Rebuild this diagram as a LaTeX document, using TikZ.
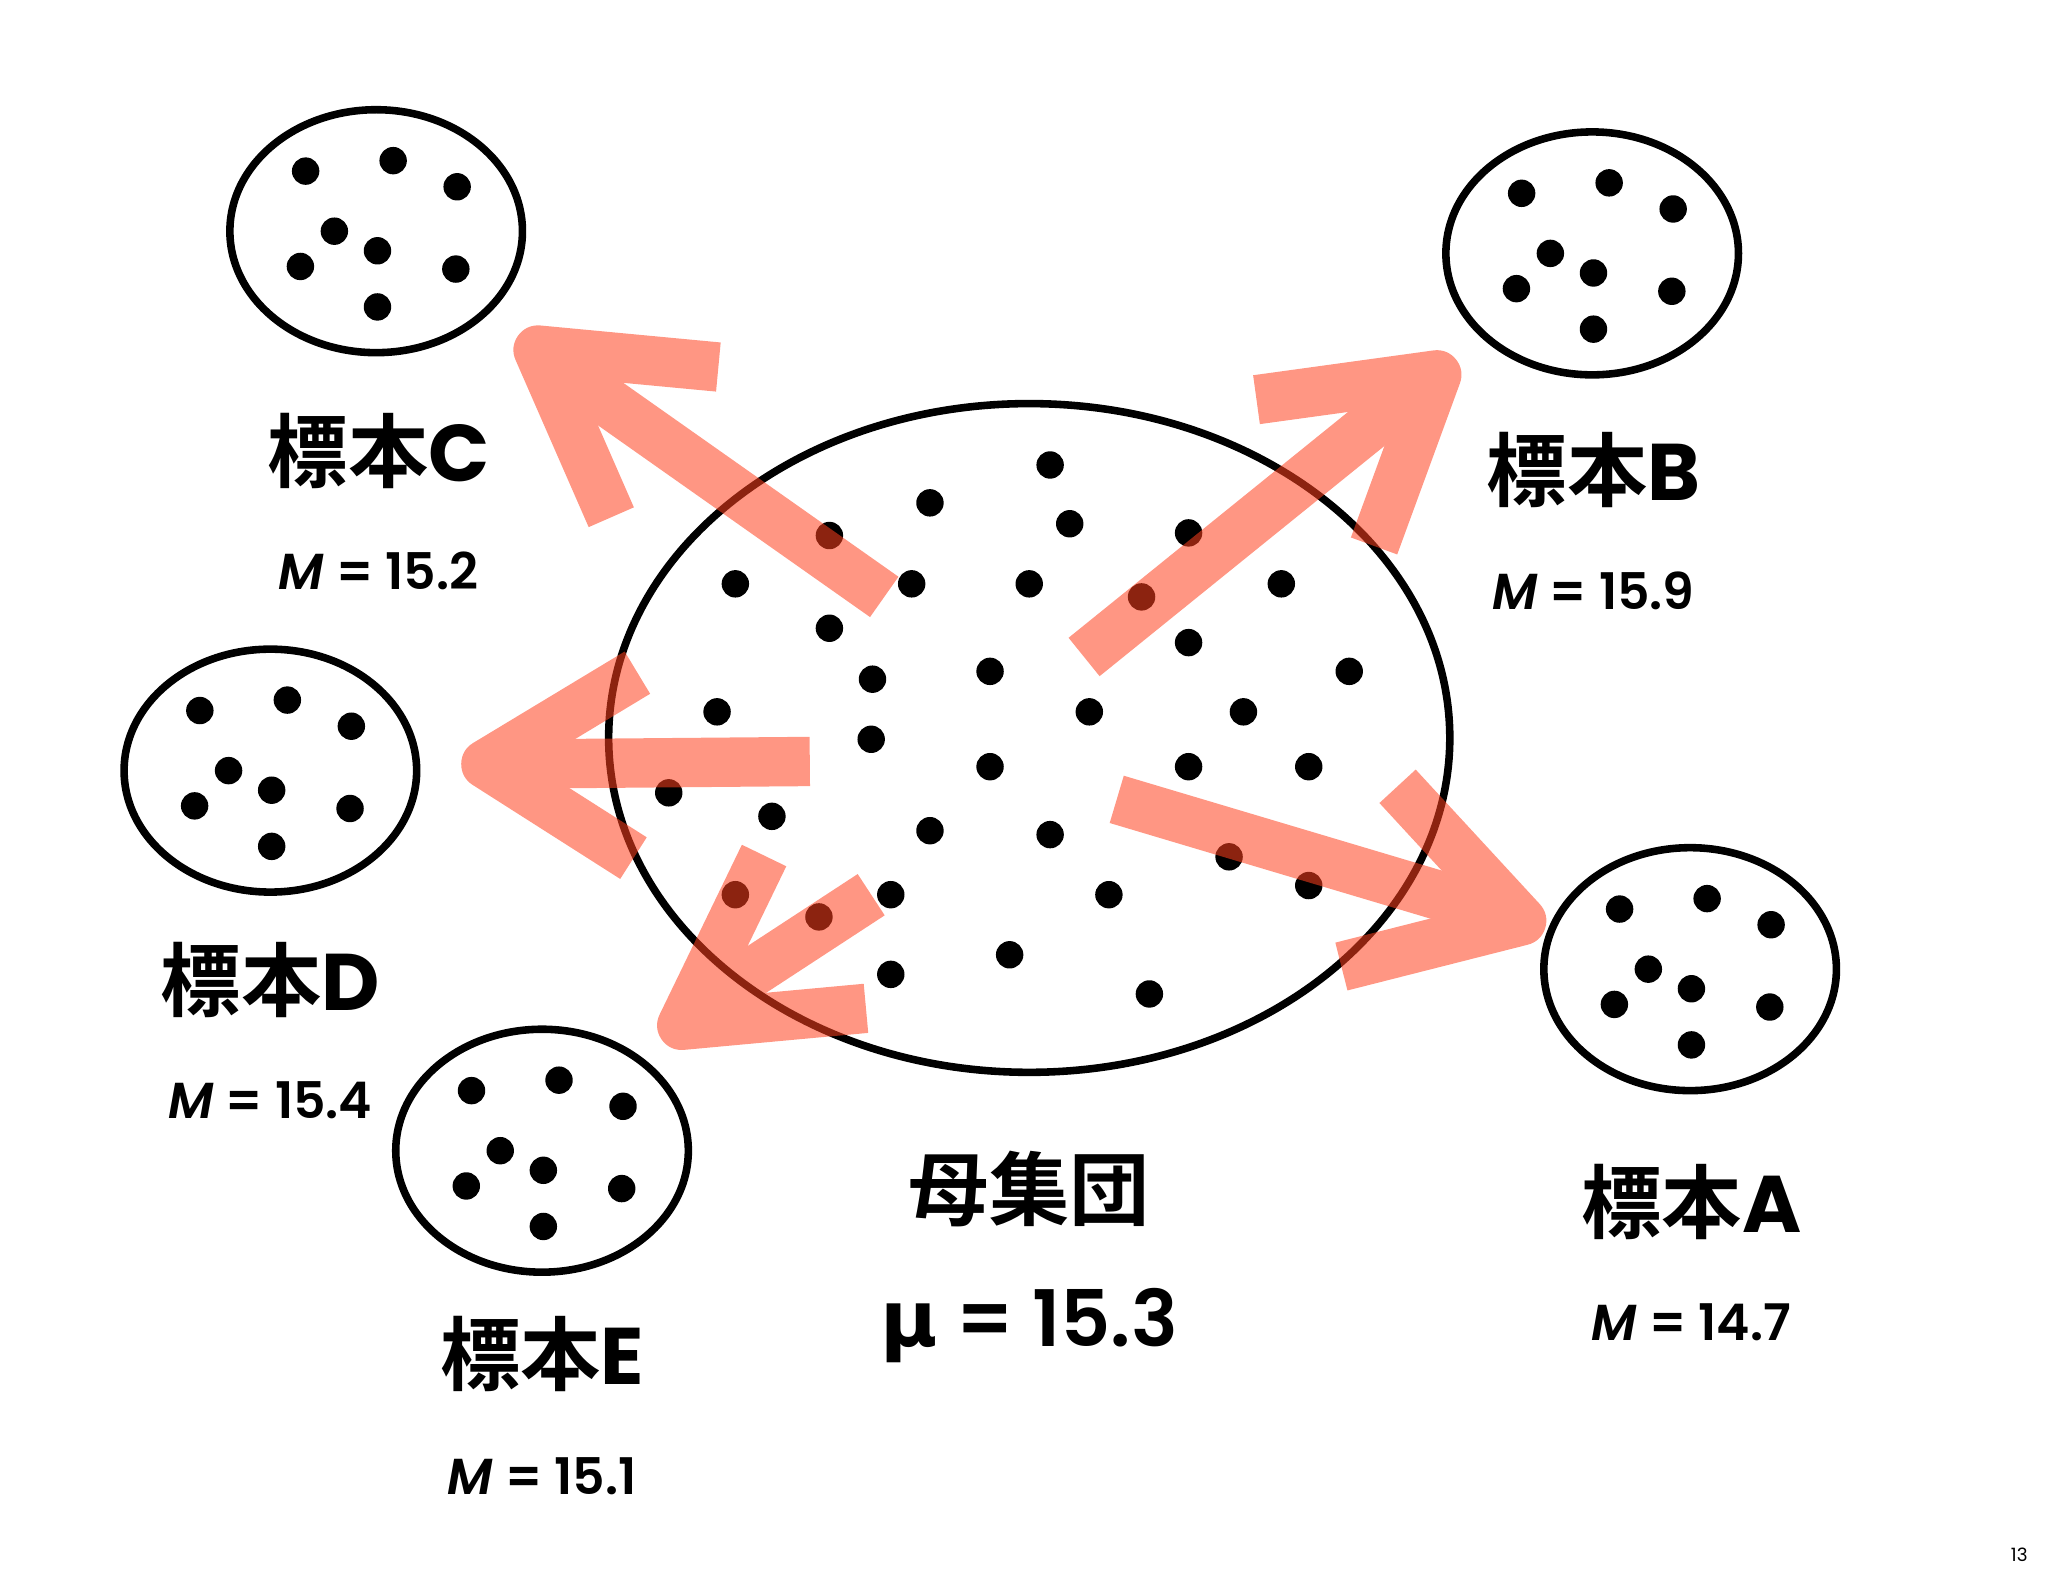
\documentclass[tikz,border=0pt]{standalone}
\usepackage{fontspec}
\newfontfamily\cjkb{Noto Sans CJK JP Bold}
\newfontfamily\pop{Poppins}[BoldFont={* Bold}]
\newfontfamily\popsb{Poppins SemiBold}
\newfontfamily\dvs{DejaVu Sans}[BoldFont={* Bold}]
\begin{document}
\begin{tikzpicture}[x=0.02cm,y=-0.02cm,
  ring/.style={draw=black,line width=3.3pt},
  dotf/.style={fill=black},
  arr/.style={draw={rgb,255:red,255;green,64;blue,30},line width=21.5pt,line join=round,line cap=butt},
  big/.style={font=\fontsize{35}{40}\selectfont},
  mlab/.style={font=\popsb\fontsize{22}{26}\selectfont}]
\useasboundingbox (0,0) rectangle (1568,1206);
\newcommand{\smp}[2]{%
  \draw[ring] (#1,#2) ellipse [x radius=112,y radius=93];
  \foreach \dx/\dy in {-54/-46,13/-54,62/-34,-32/0,1/15,-58/27,61/29,1/58}
    \fill[dotf] (#1+\dx,#2+\dy) circle (10.5);}
\draw[ring] (788,565) ellipse [x radius=322,y radius=256];
\foreach \x/\y in {804/356,712/385,819/401,635/410,910/408,563/447,698/447,788/447,874/457,981/447,635/481,910/492,668/520,758/514,1033/514,549/545,834/545,952/545,667/566,758/587,910/587,1002/587,512/607,591/625,712/636,804/639,941/656,1002/678,563/685,627/702,682/685,849/685,682/746,773/731,880/761}
  \fill[dotf] (\x,\y) circle (10.5);
\smp{288}{177}\smp{1219}{194}\smp{207}{590}\smp{415}{881}\smp{1294}{742}
\begin{scope}[transparency group,opacity=0.55]
\draw[arr] (677,457) -- (440,290);
\draw[arr] (550,281) -- (412,268) -- (468,396);
\draw[arr] (830,503) -- (1075,305);
\draw[arr] (962,306) -- (1100,287) -- (1052,418);
\draw[arr] (620,583) -- (390,585);
\draw[arr] (488,515) -- (372,585) -- (485,657);
\draw[arr] (667,685) -- (540,768);
\draw[arr] (585,655) -- (522,785) -- (663,772);
\draw[arr] (855,612) -- (1140,697);
\draw[arr] (1070,602) -- (1165,705) -- (1027,740);
\end{scope}
\node[big] (lc) at (290,345) {\cjkb 標本\pop\bfseries C};
\node[mlab] (mc) at (290,437) {\itshape M\upshape{} = 15.2};
\node[big] (lb) at (1220,360) {\cjkb 標本\pop\bfseries B};
\node[mlab] (mb) at (1220,452) {\itshape M\upshape{} = 15.9};
\node[big] (ld) at (207,750) {\cjkb 標本\pop\bfseries D};
\node[mlab] (md) at (207,842) {\itshape M\upshape{} = 15.4};
\node[big] (le) at (415,1037) {\cjkb 標本\pop\bfseries E};
\node[mlab] (me) at (415,1130) {\itshape M\upshape{} = 15.1};
\node[big] (la) at (1295,920) {\cjkb 標本\pop\bfseries A};
\node[mlab] (ma) at (1295,1012) {\itshape M\upshape{} = 14.7};
\node[big] (lp) at (788,910) {\cjkb 母集団};
\node[font=\popsb\fontsize{34}{40}\selectfont] (mu) at (788,1015) {{\dvs\bfseries μ} = 15.3};
\node[font=\pop\fontsize{8}{10}\selectfont] (pg) at (1546,1190) {13};
\end{tikzpicture}
\end{document}
